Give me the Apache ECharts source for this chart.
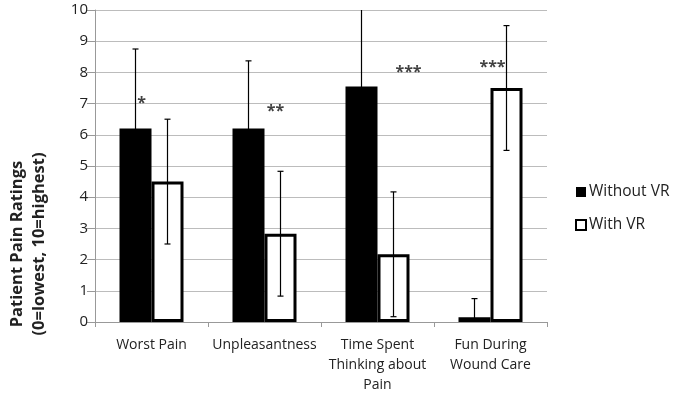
<!DOCTYPE html>
<html>
<head>
<meta charset="utf-8">
<script src="https://cdn.jsdelivr.net/npm/echarts@6/dist/echarts.min.js"></script>
<style>html,body{margin:0;padding:0;background:#fff}#c{width:675px;height:400px}</style>
</head>
<body>
<div id="c"></div>
<script>
var categories = ['Worst Pain', 'Unpleasantness', 'Time Spent\nThinking about\nPain', 'Fun During\nWound Care'];
var seriesNames = ['Without VR', 'With VR'];
var withoutVR = [6.2, 6.2, 7.55, 0.15];
var withoutErr = [2.55, 2.17, 2.5, 0.6];
var withVR = [4.5, 2.83, 2.17, 7.5];
var withErr = [2.0, 2.0, 2.0, 2.0];
var sigLabels = ['*', '**', '***', '***'];
var sigY = [7.1, 6.85, 8.1, 8.27];
var yTicks = [0, 1, 2, 3, 4, 5, 6, 7, 8, 9, 10];

var FONT = '"Open Sans"';
var BAR_W = 32;
var sigOffsetX = [-10, 11, 31, 2];

var chart = echarts.init(document.getElementById('c'), null, {renderer: 'canvas'});

function errSeries(vals, errs, side) {
  var data = vals.map(function (v, i) { return [i, v, errs[i]]; });
  return {
    type: 'custom',
    z: 5,
    clip: true,
    silent: true,
    data: data,
    encode: {x: 0, y: 1},
    renderItem: function (params, api) {
      var i = api.value(0), v = api.value(1), e = api.value(2);
      var hi = api.coord([i, v + e]);
      var lo = api.coord([i, Math.max(0, v - e)]);
      var x = hi[0] + side * BAR_W / 2;
      var cap = 3;
      var st = {stroke: '#000', lineWidth: 1.2};
      return {
        type: 'group',
        children: [
          {type: 'line', shape: {x1: x, y1: hi[1], x2: x, y2: lo[1]}, style: st},
          {type: 'line', shape: {x1: x - cap, y1: hi[1], x2: x + cap, y2: hi[1]}, style: st},
          {type: 'line', shape: {x1: x - cap, y1: lo[1], x2: x + cap, y2: lo[1]}, style: st}
        ]
      };
    }
  };
}

var option = {
  animation: false,
  backgroundColor: '#fff',
  textStyle: {fontFamily: FONT},
  grid: {left: 95, right: 128, top: 10, bottom: 78, containLabel: false},
  legend: {
    orient: 'vertical',
    left: 570,
    top: 179,
    itemWidth: 10,
    itemHeight: 10,
    itemGap: 17,
    icon: 'rect',
    data: seriesNames,
    textStyle: {fontFamily: FONT, fontSize: 15.5, color: '#222', padding: [0, 0, 0, -2]}
  },
  xAxis: {
    type: 'category',
    data: categories,
    axisLine: {lineStyle: {color: '#999', width: 1}},
    axisTick: {show: true, length: 5, lineStyle: {color: '#999'}},
    axisLabel: {fontFamily: FONT, fontSize: 14, color: '#222', margin: 13, lineHeight: 20, interval: 0}
  },
  yAxis: {
    type: 'value',
    min: 0, max: 10, interval: 1,
    axisLine: {show: true, lineStyle: {color: '#999'}},
    axisTick: {show: true, length: 8, lineStyle: {color: '#999'}},
    splitLine: {lineStyle: {color: '#bcbcbc', width: 1}},
    axisLabel: {
      fontFamily: FONT, fontSize: 15, color: '#222', margin: 7,
      formatter: function (v) { return yTicks.indexOf(v) >= 0 ? String(v) : ''; }
    }
  },
  series: [
    {
      name: seriesNames[0], type: 'bar', data: withoutVR, barWidth: BAR_W, barGap: 0,
      itemStyle: {color: '#000', borderColor: '#000', borderWidth: 0}
    },
    {
      name: seriesNames[1], type: 'bar', data: withVR, barWidth: BAR_W,
      itemStyle: {color: '#fff', borderColor: '#000', borderWidth: 3}
    },
    errSeries(withoutVR, withoutErr, -1),
    errSeries(withVR, withErr, 1),
    {
      type: 'scatter',
      symbolSize: 0,
      z: 6,
      silent: true,
      data: sigLabels.map(function (s, i) {
        return {
          value: [i, sigY[i]],
          label: {show: true, formatter: s, offset: [sigOffsetX[i], 3]}
        };
      }),
      label: {position: 'inside', fontFamily: FONT, fontSize: 16, color: '#111', fontWeight: 'bold'}
    }
  ],
  graphic: [
    {
      type: 'text',
      x: 28, y: 244,
      rotation: Math.PI / 2,
      style: {
        text: 'Patient Pain Ratings\n(0=lowest, 10=highest)',
        font: 'bold 16.5px ' + FONT,
        fill: '#222',
        align: 'center',
        verticalAlign: 'middle',
        lineHeight: 22
      }
    }
  ]
};
chart.setOption(option);
</script>
</body>
</html>
